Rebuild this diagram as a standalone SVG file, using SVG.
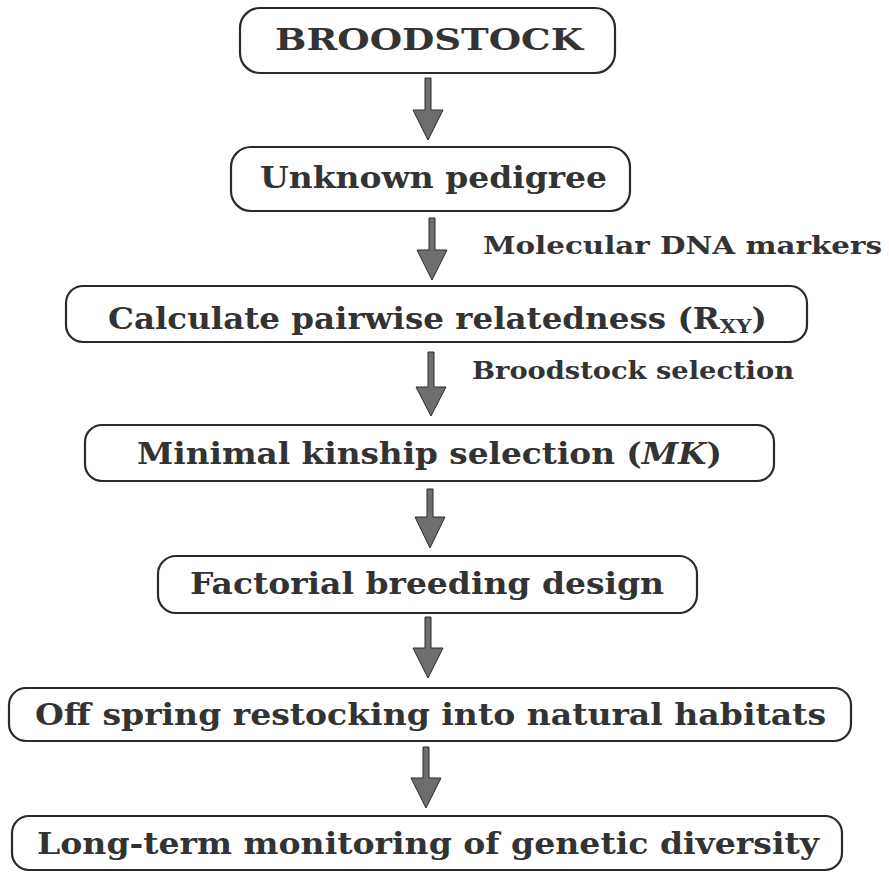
<svg xmlns="http://www.w3.org/2000/svg" width="889" height="872" viewBox="0 0 889 872">
<style>
.box{fill:none;stroke:#2a2a2a;stroke-width:2.2}
.t{font-family:"DejaVu Serif","Liberation Serif",serif;font-weight:bold;font-size:29px;fill:#333}
.lbl{font-size:24px}
.arrow{fill:#6e6e6e;stroke:#2a2a2a;stroke-width:1}
.sub{font-size:19px}
</style>
<rect width="889" height="872" fill="#fff"/>
<g id="connectors">
<path class="arrow" d="M425,78 L431,78 L431,110 L443,110 L428,140 L413,110 L425,110 Z"/>
<path class="arrow" d="M429,218 L435,218 L435,250 L447,250 L432,280 L417,250 L429,250 Z"/>
<path class="arrow" d="M428,352 L434,352 L434,387 L446,387 L431,416 L416,387 L428,387 Z"/>
<path class="arrow" d="M427,489 L433,489 L433,517 L445,517 L430,548 L415,517 L427,517 Z"/>
<path class="arrow" d="M425,617 L431,617 L431,648 L443,648 L428,678 L413,648 L425,648 Z"/>
<path class="arrow" d="M423,747 L429,747 L429,778 L441,778 L426,808 L411,778 L423,778 Z"/>
<text class="t lbl" x="483" y="254" textLength="399" lengthAdjust="spacingAndGlyphs">Molecular DNA markers</text>
<text class="t lbl" x="472" y="379" textLength="322" lengthAdjust="spacingAndGlyphs">Broodstock selection</text>
</g>
<g id="n1">
<rect class="box" x="240" y="8" width="375" height="65" rx="20"/>
<text class="t" x="275" y="50" textLength="308" lengthAdjust="spacingAndGlyphs">BROODSTOCK</text>
</g>
<g id="n2">
<rect class="box" x="231" y="147" width="399" height="64" rx="20"/>
<text class="t" x="260" y="188" textLength="347" lengthAdjust="spacingAndGlyphs">Unknown pedigree</text>
</g>
<g id="n3">
<rect class="box" x="66" y="286" width="741" height="56" rx="17"/>
<text class="t" x="108" y="329" textLength="659" lengthAdjust="spacingAndGlyphs">Calculate pairwise relatedness (R<tspan class="sub" dy="4">XY</tspan><tspan dy="-4">)</tspan></text>
</g>
<g id="n4">
<rect class="box" x="85" y="425" width="689" height="56" rx="17"/>
<text class="t" x="137" y="464" textLength="585" lengthAdjust="spacingAndGlyphs">Minimal kinship selection (<tspan font-style="italic">MK</tspan>)</text>
</g>
<g id="n5">
<rect class="box" x="158" y="556" width="539" height="57" rx="18"/>
<text class="t" x="190" y="594" textLength="474" lengthAdjust="spacingAndGlyphs">Factorial breeding design</text>
</g>
<g id="n6">
<rect class="box" x="9" y="688" width="842" height="53" rx="17"/>
<text class="t" x="35" y="725" textLength="791" lengthAdjust="spacingAndGlyphs">Off spring restocking into natural habitats</text>
</g>
<g id="n7">
<rect class="box" x="12" y="816" width="830" height="54" rx="17"/>
<text class="t" x="37" y="854" textLength="782" lengthAdjust="spacingAndGlyphs">Long-term monitoring of genetic diversity</text>
</g>
</svg>
